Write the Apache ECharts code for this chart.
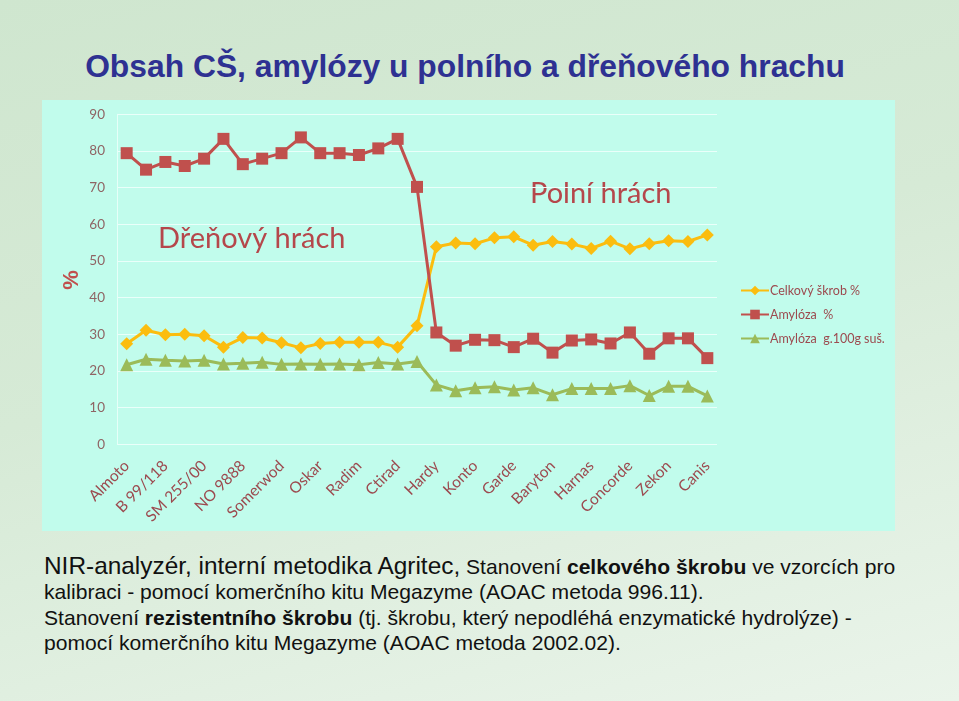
<!DOCTYPE html>
<html>
<head>
<meta charset="utf-8">
<script src="https://cdn.jsdelivr.net/npm/echarts@6/dist/echarts.min.js"></script>
<style>
  html, body { margin: 0; padding: 0; }
  body {
    width: 959px; height: 701px; overflow: hidden; position: relative;
    background: linear-gradient(165deg, #cfe6cf 0%, #d6ead6 45%, #eaf4ea 100%);
  }
  .title {
    position: absolute; left: 0; width: 930px; top: 48px; text-align: center;
    font: bold 31.8px "Liberation Sans", Arial, sans-serif; color: #2e3192;
    white-space: nowrap;
  }
  #chart {
    position: absolute; left: 42px; top: 100px; width: 853px; height: 431px;
    background: #c1fcec;
  }
  .note {
    position: absolute; left: 44px; top: 554px;
    font: 21.1px/25.3px "Liberation Sans", Arial, sans-serif; color: #111;
    white-space: nowrap;
  }
  .note .big { font-size: 24.4px; line-height: 24px; }
</style>
</head>
<body>
<div class="title">Obsah CŠ, amylózy u polního a dřeňového hrachu</div>
<div id="chart"></div>
<div class="note">
  <span class="big">NIR-analyzér, interní metodika Agritec,</span> Stanovení <b>celkového škrobu</b> ve vzorcích pro<br>
  kalibraci - pomocí komerčního kitu Megazyme (AOAC metoda 996.11).<br>
  Stanovení <b>rezistentního škrobu</b> (tj. škrobu, který nepodléhá enzymatické hydrolýze) -<br>
  pomocí komerčního kitu Megazyme (AOAC metoda 2002.02).
</div>
<script>
// popisky odrud (zobrazen kazdy druhy vzorek)
var varieties = ['Almoto', 'B 99/118', 'SM 255/00', 'NO 9888', 'Somerwod', 'Oskar', 'Radim', 'Ctirad',
  'Hardy', 'Konto', 'Garde', 'Baryton', 'Harnas', 'Concorde', 'Zekon', 'Canis'];
var yTicks = [0, 10, 20, 30, 40, 50, 60, 70, 80, 90];

var celkovyScrob = [27.4, 31.1, 29.9, 30.0, 29.6, 26.5, 29.1, 29.0, 27.7, 26.3, 27.5, 27.8, 27.8, 27.8, 26.5, 32.3,
  53.9, 54.9, 54.7, 56.3, 56.6, 54.3, 55.3, 54.6, 53.4, 55.4, 53.3, 54.7, 55.5, 55.3, 57.1];
var amylozaPct = [79.4, 74.9, 77.0, 75.9, 77.9, 83.3, 76.4, 77.9, 79.4, 83.7, 79.4, 79.4, 78.9, 80.7, 83.3, 70.2,
  30.5, 26.9, 28.5, 28.4, 26.5, 28.8, 25.0, 28.3, 28.6, 27.5, 30.5, 24.7, 28.9, 28.9, 23.5];
var amylozaSus = [21.7, 23.2, 22.9, 22.7, 22.9, 21.9, 22.1, 22.4, 21.8, 21.9, 21.8, 21.9, 21.7, 22.3, 21.9, 22.6,
  16.2, 14.6, 15.4, 15.7, 14.8, 15.4, 13.5, 15.2, 15.2, 15.2, 16.0, 13.3, 15.8, 15.8, 13.2];

var samples = celkovyScrob.map(function (v, i) { return String(i); });

var myChart = echarts.init(document.getElementById('chart'));
var labelColor = '#9c4a4f';

myChart.setOption({
  animation: false,
  textStyle: { fontFamily: 'Lato' },
  grid: { left: 75, right: 178, top: 14.3, bottom: 86.7 },
  legend: {
    orient: 'vertical',
    left: 693, top: 179,
    itemWidth: 28, itemHeight: 12, itemGap: 11,
    textStyle: { color: labelColor, fontSize: 12.5, fontFamily: 'Lato', padding: [0, 0, 0, -4] },
    data: ['Celkový škrob %', 'Amylóza  %', 'Amylóza  g.100g suš.']
  },
  xAxis: {
    type: 'category',
    data: samples,
    boundaryGap: true,
    axisLine: { show: false },
    axisTick: { show: false },
    axisLabel: {
      interval: 0,
      rotate: 45,
      margin: 19,
      color: labelColor,
      fontSize: 15.5,
      fontFamily: 'Lato',
      formatter: function (val) {
        var i = parseInt(val);
        return i % 2 === 0 ? varieties[i / 2] : '';
      }
    }
  },
  yAxis: {
    type: 'value',
    min: yTicks[0],
    max: yTicks[yTicks.length - 1],
    interval: 10,
    axisLine: { show: true, lineStyle: { color: '#e6fff8', width: 1 } },
    axisTick: { show: false },
    splitLine: { lineStyle: { color: '#eafffa', width: 1.2 } },
    axisLabel: { color: '#8f6464', fontSize: 13.5, fontFamily: 'Lato', margin: 12 }
  },
  graphic: [
    {
      type: 'text', x: 30, y: 180, rotation: Math.PI / 2,
      style: { text: '%', fill: '#c0504d', font: 'bold 22px "Liberation Sans"', align: 'center', verticalAlign: 'middle' }
    },
    { type: 'text', left: 116, top: 124, style: { text: 'Dřeňový hrách', fill: '#b5474b', font: '29px Lato' } },
    { type: 'text', left: 488, top: 79, style: { text: 'Polní hrách', fill: '#b5474b', font: '29px Lato' } }
  ],
  series: [
    {
      name: 'Celkový škrob %',
      type: 'line',
      data: celkovyScrob,
      symbol: 'diamond',
      symbolSize: 13,
      lineStyle: { color: '#fbbd0f', width: 3 },
      itemStyle: { color: '#fbbd0f' }
    },
    {
      name: 'Amylóza  %',
      type: 'line',
      data: amylozaPct,
      symbol: 'rect',
      symbolSize: 12,
      lineStyle: { color: '#c0504d', width: 3 },
      itemStyle: { color: '#c0504d' }
    },
    {
      name: 'Amylóza  g.100g suš.',
      type: 'line',
      data: amylozaSus,
      symbol: 'triangle',
      symbolSize: 13,
      lineStyle: { color: '#9bbb59', width: 3 },
      itemStyle: { color: '#9bbb59' }
    }
  ]
});
</script>
</body>
</html>
